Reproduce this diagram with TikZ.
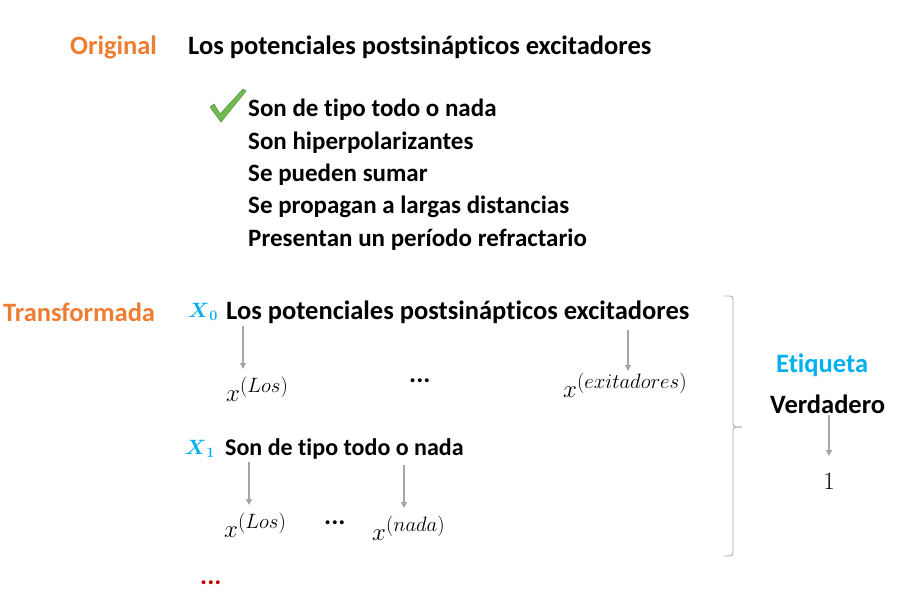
\documentclass[tikz,border=0pt]{standalone}
\usepackage{amsmath}
\usepackage[no-math]{fontspec}
\setmainfont[Ligatures=NoCommon]{Carlito}
\usetikzlibrary{arrows.meta}
\definecolor{naranja}{RGB}{237,125,49}
\definecolor{azul}{RGB}{0,176,240}
\definecolor{rojo}{RGB}{192,0,0}
\definecolor{gris}{RGB}{166,166,166}
\definecolor{verde}{RGB}{112,186,80}

\begin{document}
\begin{tikzpicture}[x=1pt, y=-1pt, inner sep=0pt,
    txt/.style={anchor=west, font=\fontsize{26.5}{30}\selectfont\bfseries},
    opc/.style={anchor=west, font=\fontsize{25}{29}\selectfont\bfseries},
    tag/.style={txt, text=naranja},
    var/.style={anchor=west, text=azul, font=\fontsize{21}{25}\selectfont},
    vec/.style={anchor=west, font=\fontsize{28}{32}\selectfont},
    garrow/.style={draw=gris, line width=1.2pt, -{Triangle[length=6pt,width=6pt]}}]
    \useasboundingbox (0,0) rectangle (907,602);

    % Original
    \node[tag] (orig) at (70,47) {Original};
    \node[txt] (preg) at (188,47) {Los potenciales postsinápticos excitadores};

    % Opciones
    \foreach \t [count=\i] in {Son de tipo todo o nada, Son hiperpolarizantes,
        Se pueden sumar, Se propagan a largas distancias,
        Presentan un período refractario} {
        \node[opc] (op\i) at (248,{110+32.3*(\i-1)}) {\t};
    }

    % Marca de verificacion
    \filldraw[fill=verde, draw=verde!80!black, line width=0.6pt]
        (210,107) -- (214,104) -- (220,114) -- (243,89) -- (246,91) -- (221,122) -- cycle;

    % Transformada
    \node[tag] (trans) at (3,312) {Transformada};
    \node[var] (X0) at (188,312) {$\boldsymbol{X}_{\mathbf{0}}$};
    \node[txt] (s0) at (226,312) {Los potenciales postsinápticos excitadores};
    \node[vec] (x0a) at (226,389) {$x^{(Los)}$};
    \node[txt] (d0) at (409,381) {...};
    \node[vec] (x0b) at (563,385) {$x^{(exitadores)}$};
    \coordinate (a0) at (243,326);
    \coordinate (b0) at (243,369);
    \coordinate (a1) at (628,330);
    \coordinate (b1) at (628,371);
    \draw[garrow] (a0) -- (b0);
    \draw[garrow] (a1) -- (b1);

    \node[var] (X1) at (185,449) {$\boldsymbol{X}_{\mathbf{1}}$};
    \node[txt, font=\fontsize{24}{28}\selectfont\bfseries] (s1) at (225,449) {Son de tipo todo o nada};
    \node[vec] (x1a) at (224,525) {$x^{(Los)}$};
    \node[txt] (d1) at (324,523) {...};
    \node[vec] (x1b) at (372,528) {$x^{(nada)}$};
    \coordinate (a2) at (249,462);
    \coordinate (b2) at (249,505);
    \coordinate (a3) at (404,465);
    \coordinate (b3) at (404,508);
    \draw[garrow] (a2) -- (b2);
    \draw[garrow] (a3) -- (b3);

    \node[txt, text=rojo] (mas) at (200,583) {...};

    % Llave
    \draw[gris, line width=0.8pt] (724,296) -- (730,296) to[out=0,in=90] (733,299)
        -- (733,424) to[out=-90,in=180] (736,427) -- (742,427);
    \draw[gris, line width=0.8pt] (742,427) -- (736,427) to[out=180,in=90] (733,430)
        -- (733,553) to[out=-90,in=0] (730,556) -- (724,556);

    % Etiqueta
    \node[txt, text=azul] (etq) at (776,365) {Etiqueta};
    \node[txt] (verd) at (770,404) {Verdadero};
    \node[anchor=center, font=\fontsize{26}{30}\selectfont] (uno) at (829,481) {$1$};
    \coordinate (a4) at (829,415);
    \draw[garrow] (a4) -- (uno.north |- 0,456);
\end{tikzpicture}
\end{document}
